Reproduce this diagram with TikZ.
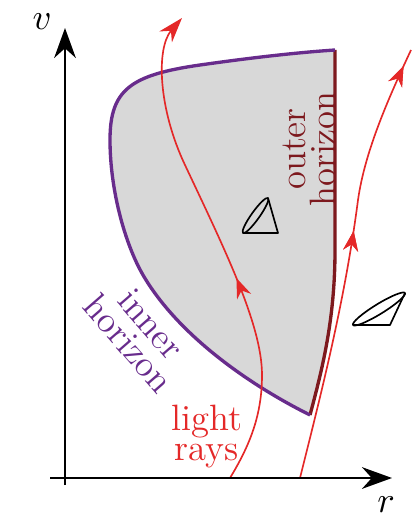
\documentclass[tikz,border=0pt]{standalone}
\usepackage{tikz}
\usetikzlibrary{arrows.meta,decorations.markings}
\definecolor{bhInner}{RGB}{104,44,140}
\definecolor{bhOuter}{RGB}{125,25,30}
\definecolor{bhRay}{RGB}{228,40,40}
\definecolor{bhFill}{RGB}{216,216,216}

\begin{document}
\begin{tikzpicture}[
  x=0.3pt, y=-0.3pt,
  font=\fontsize{11}{9}\selectfont,
  axis/.style={-{Stealth[length=9pt,width=6.5pt]}, line width=0.7pt},
  ray/.style={bhRay, line width=0.5pt},
  midarrow/.style={postaction={decorate},
    decoration={markings, mark=at position #1 with {\arrow{Stealth[length=6pt,width=4.5pt]}}}},
  horizon/.style={line width=1pt, line join=round},
  cone/.style={line width=0.5pt, line join=round}
]
\useasboundingbox (0,0) rectangle (411,518);

% trapped region between the horizons
\fill[bhFill] (310,415) .. controls (240,380) and (175,330) .. (143,275)
  .. controls (125,244) and (110,190) .. (110,140)
  .. controls (110,90) and (130,75) .. (200,65)
  .. controls (240,59.3) and (290,53) .. (335,50)
  -- (335,250) .. controls (335,320) and (322,370) .. (310,415) -- cycle;
\draw[horizon, bhOuter] (335,50) -- (335,250) .. controls (335,320) and (322,370) .. (310,415);
\draw[horizon, bhInner] (310,415) .. controls (240,380) and (175,330) .. (143,275)
  .. controls (125,244) and (110,190) .. (110,140)
  .. controls (110,90) and (130,75) .. (200,65)
  .. controls (240,59.3) and (290,53) .. (335,50);

% light rays
\draw[ray, midarrow=0.43, -{Stealth[length=7.5pt,width=5pt]}] (230,478)
  .. controls (250,445) and (262,415) .. (262,375)
  .. controls (262,325) and (225,250) .. (185,165)
  .. controls (158,108) and (156,48) .. (182,18);
\draw[ray, midarrow=0.57, midarrow=0.96] (300,478)
  .. controls (322,390) and (345,300) .. (358,200)
  .. controls (365,150) and (390,95) .. (411,50);

% light cones
\draw[cone] (243,233) -- (278,233) -- (268,198);
\draw[cone, rotate around={54.5:(255.5,215.5)}] (255.5,215.5) ellipse [x radius=6.45pt, y radius=1.2pt];
\draw[cone] (353,325) -- (390,325) -- (405,293);
\draw[cone, rotate around={31.6:(379,309)}] (379,309) ellipse [x radius=9.15pt, y radius=1.5pt];

% labels
\node[text=bhOuter, rotate=90, align=center] (outerLbl) at (309,149) {outer\\horizon};
\node[text=bhInner, rotate=-49, align=center] (innerLbl) at (140,334) {inner\\horizon};
\node[text=bhRay, align=center] (rayLbl) at (207,437) {light\\rays};

% axes
\coordinate (vBot) at (65,485);
\coordinate (vTop) at (65,28);
\coordinate (rLeft) at (50,478);
\coordinate (rRight) at (392,478);
\draw[axis] (vBot) -- (vTop);
\draw[axis] (rLeft) -- (rRight);
\node (vLbl) at (42,22) {$v$};
\node (rLbl) at (386,505) {$r$};
\end{tikzpicture}
\end{document}
